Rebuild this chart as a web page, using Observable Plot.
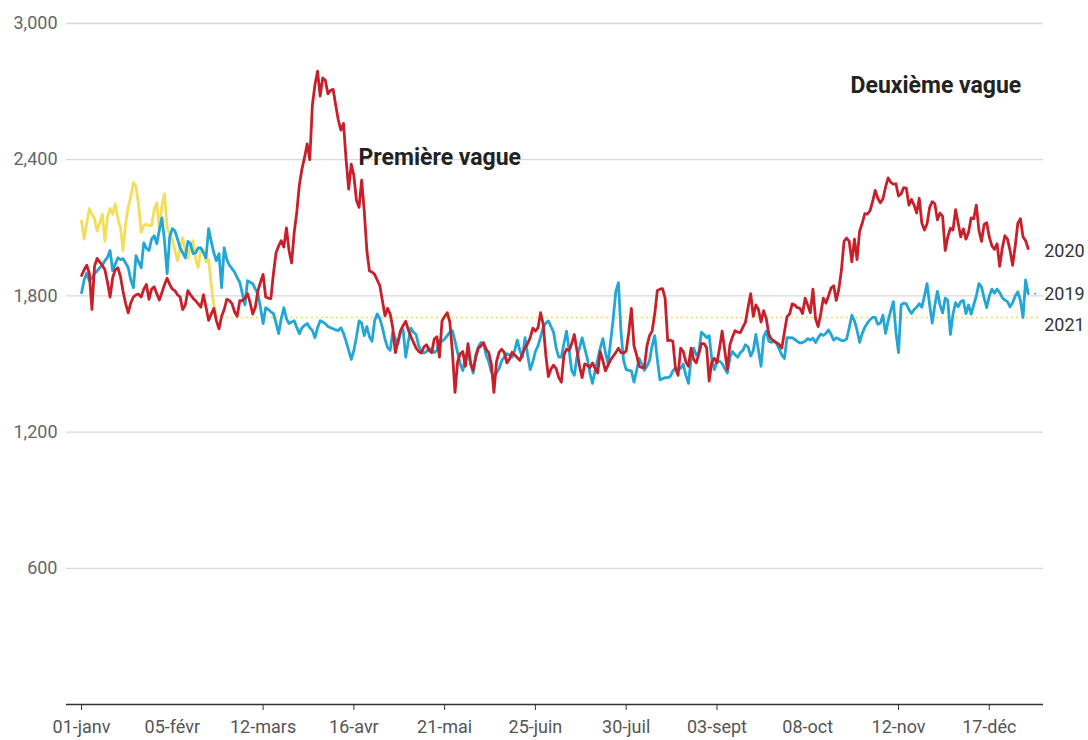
<!DOCTYPE html>
<html><head><meta charset="utf-8">
<script src="https://cdn.jsdelivr.net/npm/d3@7"></script>
<script src="https://cdn.jsdelivr.net/npm/@observablehq/plot@0.6"></script>
<style>body{margin:0;background:#fff;}</style>
</head><body><div id="chart"></div>
<script>
// Daily values (index = day of year, starting 01-janv)
const values2019 = [1814,1870,1900,1867,1880,1898,1910,1924,1935,1955,
1970,2000,1911,1940,1968,1960,1964,1945,1924,1870,
1836,1977,1950,1924,2034,2010,2000,2050,2065,2030,
2090,2144,2040,1898,2060,2096,2087,2050,2012,1990,
1968,2040,2030,1986,1990,2012,2012,1990,1968,2096,
2040,1990,1955,1986,1836,2012,1960,1935,1920,1905,
1880,1860,1810,1760,1867,1860,1854,1830,1810,1748,
1678,1748,1740,1730,1722,1680,1634,1700,1748,1700,
1678,1685,1691,1660,1634,1660,1670,1678,1660,1647,
1616,1660,1691,1685,1678,1665,1660,1655,1650,1647,
1660,1635,1600,1560,1520,1560,1620,1690,1680,1625,
1665,1620,1600,1690,1720,1700,1660,1610,1572,1560,
1640,1610,1590,1640,1650,1530,1600,1658,1640,1630,
1580,1555,1548,1555,1568,1565,1550,1560,1605,1600,
1610,1625,1640,1647,1600,1550,1500,1471,1530,1555,
1500,1460,1540,1575,1595,1590,1540,1510,1465,1445,
1460,1480,1515,1530,1545,1540,1530,1560,1605,1560,
1530,1616,1540,1475,1510,1555,1580,1620,1660,1680,
1690,1665,1640,1570,1530,1530,1590,1645,1560,1470,
1450,1530,1570,1615,1570,1525,1460,1415,1470,1520,
1570,1612,1550,1502,1600,1700,1820,1858,1640,1515,
1475,1472,1470,1420,1470,1525,1500,1472,1490,1515,
1580,1625,1520,1430,1435,1440,1440,1445,1470,1484,
1475,1480,1500,1450,1415,1520,1570,1540,1550,1640,
1630,1616,1625,1520,1475,1510,1512,1502,1480,1460,
1530,1555,1540,1530,1550,1560,1585,1575,1535,1560,
1630,1560,1490,1620,1645,1600,1595,1603,1590,1565,
1540,1524,1616,1615,1616,1608,1600,1592,1595,1600,
1612,1605,1614,1595,1615,1632,1626,1635,1650,1630,
1605,1616,1610,1603,1603,1610,1660,1715,1690,1650,
1595,1635,1662,1680,1695,1705,1705,1675,1680,1715,
1635,1690,1735,1775,1640,1550,1760,1768,1765,1740,
1722,1740,1750,1766,1750,1800,1854,1760,1680,1760,
1820,1760,1725,1790,1780,1630,1720,1770,1752,1775,
1780,1722,1760,1720,1760,1800,1854,1840,1790,1748,
1800,1830,1812,1830,1815,1792,1782,1775,1752,1770,
1800,1818,1780,1705,1870,1810];

const values2020 = [1890,1915,1935,1900,1740,1930,1965,1950,1935,1915,
1860,1795,1880,1915,1924,1885,1820,1766,1725,1770,
1795,1805,1808,1795,1830,1850,1785,1830,1840,1810,
1782,1815,1850,1878,1850,1830,1823,1805,1795,1740,
1760,1823,1805,1790,1778,1765,1750,1805,1750,1692,
1720,1745,1690,1655,1710,1740,1785,1780,1766,1730,
1710,1779,1779,1790,1810,1770,1720,1750,1823,1860,
1895,1795,1790,1788,1900,1990,2020,2043,2015,2100,
2000,1945,2080,2170,2290,2360,2410,2470,2400,2640,
2730,2790,2680,2760,2750,2690,2705,2710,2640,2575,
2530,2560,2400,2270,2380,2330,2220,2190,2310,2175,
2000,1910,1905,1895,1870,1845,1779,1712,1745,1720,
1660,1550,1600,1647,1670,1688,1650,1620,1595,1570,
1555,1548,1575,1585,1560,1550,1610,1620,1530,1690,
1710,1726,1685,1550,1375,1510,1545,1555,1490,1590,
1505,1472,1530,1570,1580,1594,1565,1550,1500,1375,
1510,1552,1565,1550,1505,1522,1552,1540,1528,1516,
1545,1572,1590,1616,1658,1645,1660,1726,1675,1540,
1445,1478,1495,1480,1440,1420,1540,1565,1560,1590,
1630,1560,1490,1440,1500,1495,1484,1505,1480,1460,
1555,1515,1470,1495,1518,1535,1550,1570,1550,1548,
1558,1640,1745,1580,1540,1490,1484,1484,1580,1625,
1645,1720,1823,1830,1832,1790,1603,1605,1600,1480,
1450,1570,1555,1510,1490,1570,1520,1505,1545,1590,
1590,1572,1425,1510,1525,1505,1570,1645,1560,1475,
1585,1620,1647,1640,1638,1662,1685,1750,1810,1710,
1760,1740,1685,1735,1700,1630,1610,1600,1594,1585,
1570,1640,1708,1720,1765,1760,1748,1745,1722,1790,
1760,1725,1830,1700,1665,1720,1790,1768,1800,1835,
1845,1780,1830,1915,2040,2055,2040,1950,2050,1960,
2085,2120,2162,2160,2175,2215,2265,2230,2210,2228,
2280,2320,2300,2292,2294,2240,2250,2277,2275,2200,
2225,2200,2165,2230,2120,2090,2118,2190,2215,2206,
2135,2165,2150,2000,2060,2098,2090,2180,2120,2060,
2095,2050,2080,2144,2140,2200,2090,2040,2115,2122,
2060,2020,2005,2030,1930,2010,2065,2050,2000,1935,
2020,2120,2140,2060,2043,2008];

const values2021 = [2130,2050,2120,2185,2160,2140,2085,2120,2160,2040,
2150,2185,2160,2205,2140,2100,2000,2120,2190,2240,
2300,2280,2200,2080,2110,2115,2110,2110,2180,2210,
2090,2200,2250,2100,2070,2050,2000,1955,2010,2056,
2000,1965,2020,2043,1960,1925,2010,2000,1950,1960,
1850,1760,1705];

const seriesNames = ["2019", "2020", "2021"];
const seriesColors = ["#22a6d5", "#c8202b", "#f1df5c"];

const tickDays = [0, 35, 70, 105, 140, 175, 210, 245, 280, 315, 350];
const tickLabels = ["01-janv","05-févr","12-mars","16-avr","21-mai","25-juin","30-juil","03-sept","08-oct","12-nov","17-déc"];
const tickMarkDays = [0, 70, 105, 140, 175, 210, 245, 315, 350];
const yTicks = [600, 1200, 1800, 2400, 3000];

const annotationTexts = ["Première vague", "Deuxième vague"];

const toRows = (arr, name) => arr.map((v, i) => ({day: i, value: v, series: name}));
const rows2019 = toRows(values2019, seriesNames[0]);
const rows2020 = toRows(values2020, seriesNames[1]);
const rows2021 = toRows(values2021, seriesNames[2]);

const lastDay = values2020.length - 1;
const label2020 = [{series: seriesNames[1], day: lastDay, value: values2020.at(-1)}];
const label2019 = [{series: seriesNames[0], day: lastDay, value: values2019.at(-1)}];
const label2021 = [{series: seriesNames[2], day: lastDay, value: values2021.at(-1)}];

const labelOpts = {x: "day", y: "value", text: "series", dx: 16, textAnchor: "start", fill: "#333", fontSize: 18};

const chart = Plot.plot({
  width: 1088,
  height: 740,
  marginLeft: 66,
  marginRight: 45,
  marginTop: 23,
  marginBottom: 36,
  style: {fontFamily: "Roboto, 'Open Sans', sans-serif", fontSize: "18px", color: "#555", background: "#fff"},
  x: {domain: [-5.8, 370.9]},
  y: {domain: [0, 3000]},
  marks: [
    Plot.ruleY(yTicks, {stroke: "#d9d9d9", strokeWidth: 1.3}),
    Plot.axisY(yTicks, {tickSize: 0, tickPadding: 9, tickFormat: d3.format(","), label: null, fill: "#666", fontSize: 18}),
    Plot.ruleY([0], {stroke: "#333", strokeWidth: 1.5}),
    Plot.axisX(tickMarkDays, {tickSize: 6, tickFormat: () => "", label: null, stroke: "#333"}),
    Plot.axisX(tickDays, {tickSize: 0, tickPadding: 16, tickFormat: d => tickLabels[tickDays.indexOf(d)], label: null, fill: "#555", fontSize: 18}),
    Plot.ruleY([values2021.at(-1)], {x1: values2021.length - 1, x2: 369.5, stroke: "#eedd55", strokeWidth: 1.6, strokeDasharray: "2,3"}),
    Plot.ruleY([values2019.at(-1)], {x1: lastDay + 2.5, x2: 369.5, stroke: seriesColors[0], strokeWidth: 1.5, strokeDasharray: "2,3"}),
    Plot.line(rows2021, {x: "day", y: "value", stroke: seriesColors[2], strokeWidth: 2.8}),
    Plot.line(rows2019, {x: "day", y: "value", stroke: seriesColors[0], strokeWidth: 2.8}),
    Plot.line(rows2020, {x: "day", y: "value", stroke: seriesColors[1], strokeWidth: 2.8}),
    Plot.text(label2020, {...labelOpts, dy: 3}),
    Plot.text(label2019, {...labelOpts, dy: 1}),
    Plot.text(label2021, {...labelOpts, dy: 8}),
    Plot.text([annotationTexts[0]], {x: 106.8, y: 2410, text: d => d, textAnchor: "start", fontWeight: "bold", fontSize: 23, fill: "#222"}),
    Plot.text([annotationTexts[1]], {x: 296.5, y: 2726, text: d => d, textAnchor: "start", fontWeight: "bold", fontSize: 23, fill: "#222"})
  ]
});
document.getElementById("chart").appendChild(chart);
</script>
</body></html>
